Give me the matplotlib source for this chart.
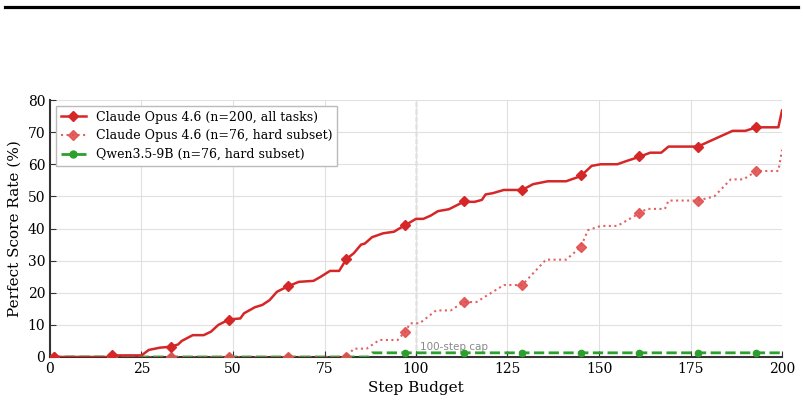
import matplotlib
matplotlib.use("Agg")
import matplotlib.pyplot as plt
from matplotlib.lines import Line2D

plt.rcParams['font.family'] = ['DejaVu Serif']

# Claude Opus 4.6, all tasks (n=200)
all_x = [0, 16, 17, 25, 27, 30, 33, 35, 36, 39, 42, 44, 46, 49, 52, 53, 56, 58, 60, 62, 65,
         68, 72, 74, 76.5, 79, 81, 83, 85, 86, 88, 91, 94, 95, 97, 100, 102, 104, 106, 109,
         113, 116, 118, 119, 121, 124, 129, 132, 136, 141, 145, 148, 150.5, 155, 157.5, 161,
         164, 167, 169, 177, 186.5, 190, 193, 199, 200]
all_y = [0, 0, 0.5, 0.5, 2.2, 2.9, 3.2, 3.9, 5, 6.8, 6.8, 7.9, 10, 11.7, 12, 13.6, 15.5, 16.2,
         17.7, 20.3, 22, 23.4, 23.7, 25, 26.8, 26.8, 30.5, 32.3, 35, 35.3, 37.3, 38.5, 39, 39.7,
         41, 43, 43, 44, 45.4, 46, 48.3, 48.3, 48.9, 50.6, 51, 52, 52, 53.8, 54.7, 54.7, 56.3,
         59.5, 60, 60, 61, 62.3, 63.6, 63.6, 65.5, 65.5, 70.4, 70.4, 71.5, 71.5, 76.7]

# Claude Opus 4.6, hard subset (n=76)
hard_x = [0, 81, 83, 86.5, 90, 95, 97, 98.5, 101, 105.5, 109.5, 113, 116.5, 124, 129, 135.5,
          141, 145, 147, 150.5, 155, 161, 163, 168, 169, 177, 181.5, 186, 189.5, 193, 199, 200]
hard_y = [0, 0, 2.6, 2.6, 5.3, 5.3, 7.9, 10.5, 10.5, 14.5, 14.5, 17.1, 17.1, 22.4, 22.4, 30.3,
          30.3, 34.2, 39.5, 40.8, 40.8, 44.7, 46.1, 46.1, 48.7, 48.7, 50, 55.3, 55.3, 57.9,
          57.9, 64.5]

# Qwen3.5-9B, hard subset (n=76)
qwen_x = [0, 87, 88, 200]
qwen_y = [0, 0, 1.3, 1.3]

# marker positions
mark_steps = [1, 17, 33, 49, 65, 81, 97, 113, 129, 145, 161, 177, 193]
all_marks = [0, 0.5, 3.0, 11.5, 22, 30.5, 41, 48.5, 52, 56.5, 62.5, 65.5, 71.5]
hard_marks = [0, 0, 0, 0, 0, 0, 7.9, 17.1, 22.4, 34.2, 44.7, 48.7, 57.9]
qwen_marks = [0, 0, 0, 0, 0, 0, 1.3, 1.3, 1.3, 1.3, 1.3, 1.3, 1.3]

labels = ["Claude Opus 4.6 (n=200, all tasks)",
          "Claude Opus 4.6 (n=76, hard subset)",
          "Qwen3.5-9B (n=76, hard subset)"]

red = '#d62728'
red_l = '#e05050'
green = '#2ca02c'

fig = plt.figure(figsize=(8.04, 4.0), dpi=100)
ax = fig.add_axes([50/804, 1-357/400, 732/804, 257/400])

ax.grid(True, color='#e0e0e0', lw=0.8, zorder=0)
ax.axvline(100, color='#999999', ls='--', lw=1.0, zorder=1)
ax.text(101, 1.5, "100-step cap", fontsize=7.5, color='#888888',
        family='DejaVu Sans', va='bottom', ha='left')

ax.plot(qwen_x, qwen_y, color=green, ls='--', lw=2.0, zorder=3)
ax.plot(mark_steps, qwen_marks, ls='none', marker='o', ms=4.5, color=green, zorder=4)

ax.plot(hard_x, hard_y, color=red_l, ls=':', lw=1.5, alpha=0.9, zorder=3)
ax.plot(mark_steps, hard_marks, ls='none', marker='D', ms=5.5, color=red_l, alpha=0.9, zorder=4)

ax.plot(all_x, all_y, color=red, ls='-', lw=1.8, zorder=5)
ax.plot(mark_steps, all_marks, ls='none', marker='D', ms=5.5, color=red, zorder=6)

ax.set_xlim(0, 200)
ax.set_ylim(0, 80)
ax.set_xticks([0, 25, 50, 75, 100, 125, 150, 175, 200])
ax.set_yticks([0, 10, 20, 30, 40, 50, 60, 70, 80])
ax.tick_params(direction='in', labelsize=10, length=4, color='#333333')
for s in ['top', 'right']:
    ax.spines[s].set_visible(False)
for s in ['left', 'bottom']:
    ax.spines[s].set_color('#333333')
    ax.spines[s].set_linewidth(1.5)

ax.set_xlabel("Step Budget", fontsize=11)
ax.set_ylabel("Perfect Score Rate (%)", fontsize=11)

handles = [
    Line2D([], [], color=red, ls='-', lw=1.8, marker='D', ms=5),
    Line2D([], [], color=red_l, ls=':', lw=1.5, marker='D', ms=5, alpha=0.9),
    Line2D([], [], color=green, ls='--', lw=2.0, marker='o', ms=5),
]
leg = ax.legend(handles, labels, loc='upper left', fontsize=9, fancybox=False,
                edgecolor='#bbbbbb', framealpha=1.0, borderaxespad=0.45,
                handlelength=2.0, labelspacing=0.45)

fig.add_artist(Line2D([5/804, 798/804], [1-7/400, 1-7/400], color='black', lw=2.3))

fig.savefig("out.png", dpi=100)
